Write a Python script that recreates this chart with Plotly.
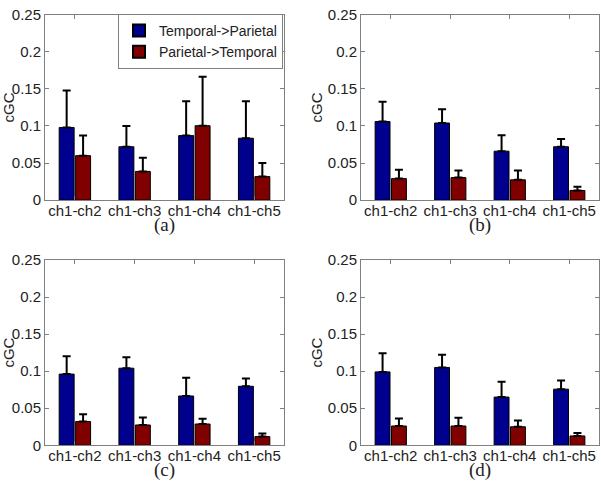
import plotly.graph_objects as go

categories = ["ch1-ch2", "ch1-ch3", "ch1-ch4", "ch1-ch5"]
series_names = ["Temporal->Parietal", "Parietal->Temporal"]
panel_labels = ["(a)", "(b)", "(c)", "(d)"]
y_ticks = [0, 0.05, 0.1, 0.15, 0.2, 0.25]
y_tick_text = ["0", "0.05", "0.1", "0.15", "0.2", "0.25"]

# panel (a)
a_tp = [0.098, 0.072, 0.087, 0.0835]
a_tp_err = [0.050, 0.028, 0.0465, 0.050]
a_pt = [0.060, 0.0387, 0.1004, 0.0317]
a_pt_err = [0.027, 0.0183, 0.066, 0.0183]
# panel (b)
b_tp = [0.106, 0.104, 0.066, 0.072]
b_tp_err = [0.0266, 0.0186, 0.0214, 0.0106]
b_pt = [0.029, 0.0304, 0.0274, 0.013]
b_pt_err = [0.012, 0.0096, 0.0126, 0.005]
# panel (c)
c_tp = [0.096, 0.104, 0.0665, 0.0796]
c_tp_err = [0.024, 0.0147, 0.0245, 0.0104]
c_pt = [0.032, 0.0274, 0.0287, 0.0117]
c_pt_err = [0.010, 0.010, 0.007, 0.0043]
# panel (d)
d_tp = [0.099, 0.105, 0.065, 0.0757]
d_tp_err = [0.0253, 0.017, 0.0207, 0.0117]
d_pt = [0.026, 0.026, 0.025, 0.0126]
d_pt_err = [0.010, 0.011, 0.0085, 0.0039]

panels = [
    (a_tp, a_tp_err, a_pt, a_pt_err),
    (b_tp, b_tp_err, b_pt, b_pt_err),
    (c_tp, c_tp_err, c_pt, c_pt_err),
    (d_tp, d_tp_err, d_pt, d_pt_err),
]

W, H = 601, 489
# plot areas in pixels: (left, right, top, bottom)
areas = [(45, 284, 6, 198), (361, 599, 6, 198), (45, 284, 260, 452), (361, 599, 260, 452)]
colors = ["#00008f", "#800000"]

fig = go.Figure()
axis_color = "#808080"
tick_font = dict(family="Liberation Sans, Arial", size=15, color="#222")

for i, (tp, tpe, pt, pte) in enumerate(panels):
    n = "" if i == 0 else str(i + 1)
    xa, ya = "x" + n, "y" + n
    for j, (vals, errs) in enumerate([(tp, tpe), (pt, pte)]):
        fig.add_trace(go.Bar(
            x=categories, y=vals, name=series_names[j],
            xaxis=xa, yaxis=ya, offsetgroup=str(j), legendgroup=str(j),
            showlegend=(i == 0),
            marker=dict(color=colors[j], line=dict(color="black", width=1)),
            error_y=dict(type="data", array=errs, arrayminus=[0] * len(errs),
                         symmetric=False, color="black", thickness=2, width=4),
        ))
    l, r, t, b = areas[i]
    fig.layout["xaxis" + n] = dict(
        domain=[l / W, r / W], anchor=ya, showline=True, linecolor=axis_color,
        linewidth=1, mirror="ticks", ticks="inside", ticklen=4, tickcolor=axis_color,
        tickfont=tick_font, showgrid=False, zeroline=False,
        range=[-0.5, 3.5], type="category", ticklabelstandoff=-3,
    )
    fig.layout["yaxis" + n] = dict(
        domain=[1 - b / H, 1 - t / H], anchor=xa, showline=True, linecolor=axis_color,
        linewidth=1, mirror="ticks", ticks="inside", ticklen=4, tickcolor=axis_color,
        tickfont=tick_font, showgrid=False, zeroline=False,
        range=[0, 0.25], tickvals=y_ticks, ticktext=y_tick_text,
        title=dict(text="cGC", font=dict(family="Liberation Sans, Arial", size=15, color="#222"),
                   standoff=1),
    )
    fig.add_annotation(
        text=panel_labels[i], x=(l + r) / 2 / W, y=1 - (b + 26) / H,
        xref="paper", yref="paper", showarrow=False, xanchor="center", yanchor="middle",
        font=dict(family="Liberation Serif, Times New Roman", size=19, color="#222"),
    )

fig.update_layout(
    width=W, height=H, margin=dict(l=0, r=0, t=0, b=0),
    paper_bgcolor="white", plot_bgcolor="white",
    barmode="group", bargap=0.45, bargroupgap=0.09,
    showlegend=True,
    legend=dict(x=283 / W, y=1 - 5 / H, xanchor="right", yanchor="top",
                bgcolor="white", bordercolor=axis_color, borderwidth=1,
                font=dict(family="Liberation Sans, Arial", size=14, color="#222"),
                tracegroupgap=0, itemsizing="constant"),
)

fig.write_html("out.html", config={"displayModeBar": False},
               post_script="document.body.style.margin='0';")
